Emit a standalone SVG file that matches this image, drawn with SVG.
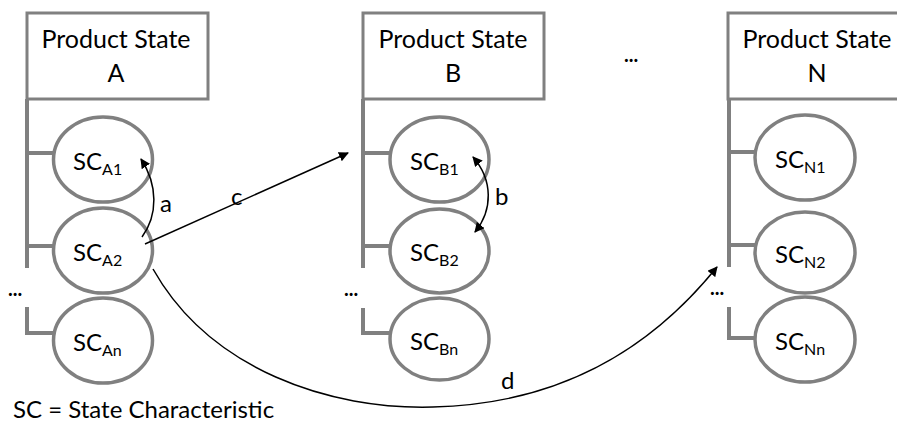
<svg xmlns="http://www.w3.org/2000/svg" width="897" height="434" viewBox="0 0 897 434">
<defs>
<marker id="ah" viewBox="0 0 10 10" refX="9" refY="5" markerWidth="10" markerHeight="10" markerUnits="userSpaceOnUse" orient="auto-start-reverse">
<path d="M0,0 L10,5 L0,10 z" fill="#000"/>
</marker>
<style>
.box{fill:#fff;stroke:#808080;stroke-width:3}
.ell{fill:#fff;stroke:#808080;stroke-width:3.5}
.br{fill:none;stroke:#808080;stroke-width:4}
.t{font-family:Lato,"Liberation Sans",sans-serif;fill:#000}
.title{font-size:25px;text-anchor:middle}
.sc{font-size:24px}
.sub{font-size:16px}
.lbl{font-size:24px}
.con{fill:none;stroke:#000;stroke-width:1.5}
.dots{font-family:Lato,"Liberation Sans",sans-serif;font-size:20px;font-weight:bold}
</style>
</defs>
<rect width="897" height="434" fill="#fff"/>

<g id="stateA">
<rect class="box" x="27" y="13" width="181" height="86"/>
<text class="t title" x="116" y="48">Product State</text>
<text class="t title" x="116" y="82">A</text>
<path class="br" d="M27,99 V268 M27,153 H55 M27,246 H55 M27,307 V333 H55"/>
<text class="dots" x="8" y="296">...</text>
</g>
<g id="scA1"><ellipse class="ell" cx="103" cy="159.5" rx="49.5" ry="42.5"/><text class="t sc" x="73" y="170">SC<tspan class="sub" dy="5">A1</tspan></text></g>
<g id="scA2"><ellipse class="ell" cx="103" cy="250.5" rx="49.5" ry="42.5"/><text class="t sc" x="73" y="261">SC<tspan class="sub" dy="5">A2</tspan></text></g>
<g id="scAn"><ellipse class="ell" cx="103" cy="340.5" rx="49.5" ry="42.5"/><text class="t sc" x="73" y="351">SC<tspan class="sub" dy="5">An</tspan></text></g>

<g id="stateB">
<rect class="box" x="363" y="13" width="181" height="86"/>
<text class="t title" x="453" y="48">Product State</text>
<text class="t title" x="453" y="82">B</text>
<path class="br" d="M363,99 V268 M363,153 H391 M363,246 H391 M363,308 V333 H391"/>
<text class="dots" x="344" y="296">...</text>
</g>
<g id="scB1"><ellipse class="ell" cx="439.5" cy="159.5" rx="49.5" ry="42.5"/><text class="t sc" x="410" y="170">SC<tspan class="sub" dy="5">B1</tspan></text></g>
<g id="scB2"><ellipse class="ell" cx="439.5" cy="251" rx="49.5" ry="42"/><text class="t sc" x="410" y="261">SC<tspan class="sub" dy="5">B2</tspan></text></g>
<g id="scBn"><ellipse class="ell" cx="439.5" cy="339" rx="49.5" ry="41"/><text class="t sc" x="410" y="350">SC<tspan class="sub" dy="5">Bn</tspan></text></g>

<text class="dots" id="ellipsis" x="624" y="62">...</text>

<g id="stateN">
<rect class="box" x="728" y="13" width="181" height="86"/>
<text class="t title" x="817" y="48">Product State</text>
<text class="t title" x="817" y="82">N</text>
<path class="br" d="M729,99 V267 M729,152 H757 M729,245 H757 M729,307 V338 H757"/>
<text class="dots" x="710" y="295">...</text>
</g>
<g id="scN1"><ellipse class="ell" cx="805" cy="157.5" rx="50" ry="42.5"/><text class="t sc" x="775" y="168">SC<tspan class="sub" dy="5">N1</tspan></text></g>
<g id="scN2"><ellipse class="ell" cx="805" cy="252.5" rx="50" ry="40.5"/><text class="t sc" x="775" y="263">SC<tspan class="sub" dy="5">N2</tspan></text></g>
<g id="scNn"><ellipse class="ell" cx="805" cy="339.5" rx="50" ry="42.5"/><text class="t sc" x="775" y="350">SC<tspan class="sub" dy="5">Nn</tspan></text></g>

<g id="connectors">
<path class="con" d="M142,237 C158,215 158,185 141,159" marker-end="url(#ah)"/>
<path class="con" d="M145,244 L348,153" marker-end="url(#ah)"/>
<path class="con" d="M473,157 C493,180 493,210 475,232" marker-start="url(#ah)" marker-end="url(#ah)"/>
<path class="con" d="M153,269 C210,370 330,410 433,407 C560,404 650,350 717,267" marker-end="url(#ah)"/>
<text class="t lbl" x="160" y="212">a</text>
<text class="t lbl" x="231" y="205">c</text>
<text class="t lbl" x="495" y="205">b</text>
<text class="t lbl" x="501" y="389">d</text>
</g>

<text class="t" x="13" y="418" font-size="24">SC = State Characteristic</text>
</svg>
